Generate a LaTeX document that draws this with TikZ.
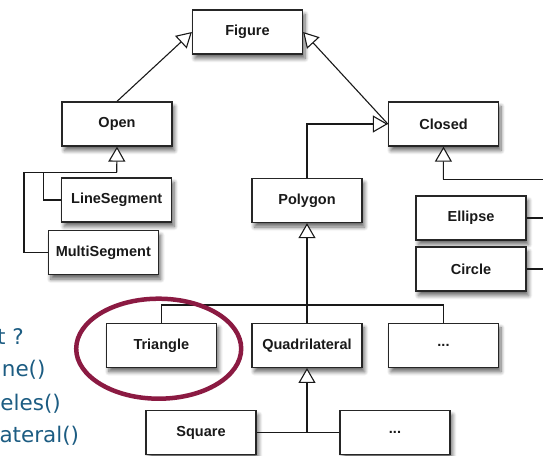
\documentclass[tikz,border=0pt]{standalone}
\usepackage{fontspec}
\setmainfont{Liberation Sans}
\newfontfamily\dejavu{DejaVu Sans}
\usetikzlibrary{arrows.meta,shadows.blur}
\definecolor{slideblue}{RGB}{28,92,130}
\definecolor{hlred}{RGB}{139,26,66}
\tikzset{
  umlbox/.style={draw=black!85, line width=1.3pt, fill=white,
    minimum width=110pt, minimum height=44pt, inner sep=0pt,
    font=\bfseries\fontsize{14.5}{17}\selectfont, text=black!90,
    blur shadow={shadow xshift=2.5pt, shadow yshift=-4.5pt, shadow blur steps=8, shadow blur radius=4pt, shadow opacity=60}},
  conn/.style={line width=1.1pt, draw=black!90},
  inh/.style={conn, -{Triangle[fill=white, length=15pt, width=17pt, line width=1.1pt]}},
  slidetxt/.style={anchor=base east, inner sep=0pt, text=slideblue,
    font=\dejavu\fontsize{21.5}{26}\selectfont},
}
\begin{document}
\begin{tikzpicture}[x=1pt,y=-1pt]
\useasboundingbox (0,0) rectangle (543,455);
\clip (0,0) rectangle (543,455);

% boxes
\node[umlbox] (figure) at (247.5,32) {Figure};
\node[umlbox] (open) at (117,124) {Open};
\node[umlbox] (closed) at (443.5,124) {Closed};
\node[umlbox] (lineseg) at (116.7,200) {LineSegment};
\node[umlbox] (multiseg) at (103.3,252.7) {MultiSegment};
\node[umlbox] (polygon) at (307,200.5) {Polygon};
\node[umlbox] (ellipse) at (471,218) {Ellipse};
\node[umlbox] (circle) at (471,269) {Circle};
\node[umlbox] (triangle) at (161.3,345.3) {Triangle};
\node[umlbox] (quad) at (307,345.3) {Quadrilateral};
\node[umlbox] (dotsa) at (443.5,345.3) {...};
\node[umlbox] (square) at (201,432.5) {Square};
\node[umlbox] (dotsb) at (395,432.5) {...};

% junction points
\coordinate (ojoin) at (116.7,172.3);
\coordinate (lsbend) at (43.3,172.3);
\coordinate (msbend) at (24,172.3);
\coordinate (cjoin) at (443.3,179.3);
\coordinate (rbus) at (560,179.3);
\coordinate (pjoin) at (307,305);
\coordinate (qjoin) at (307,432.5);

% connectors
\draw[inh] (open.north) -- (figure.west);
\draw[inh] (closed.west) -- (figure.east);
\draw[inh] (polygon.north) |- (closed.west);

\draw[inh] (ojoin) -- (open.south);
\draw[conn] (lineseg.west) -| (lsbend) -- (ojoin);
\draw[conn] (multiseg.west) -| (msbend) -- (lsbend);

\draw[inh] (cjoin) -- (closed.south);
\draw[conn] (cjoin) -- (rbus);
\draw[conn] (ellipse.east) -- (ellipse.east -| rbus);
\draw[conn] (circle.east) -- (circle.east -| rbus);
\draw[conn] (rbus) -- (circle.east -| rbus);

\draw[inh] (pjoin) -- (polygon.south);
\draw[conn] (triangle.north) |- (pjoin) -| (dotsa.north);
\draw[conn] (quad.north) -- (pjoin);

\draw[inh] (qjoin) -- (quad.south);
\draw[conn] (square.east) -- (dotsb.west);

% slide text (cut off at the left edge, as in the reference)
\node[slidetxt] (q1) at (24,344) {t ?};
\node[slidetxt] (q2) at (45.7,376.7) {ne()};
\node[slidetxt] (q3) at (61,410) {eles()};
\node[slidetxt] (q4) at (79.3,442.7) {ateral()};

% highlight
\draw[hlred, line width=4.5pt] (158.7,348.7) ellipse [x radius=82.5pt, y radius=50pt];
\end{tikzpicture}
\end{document}
